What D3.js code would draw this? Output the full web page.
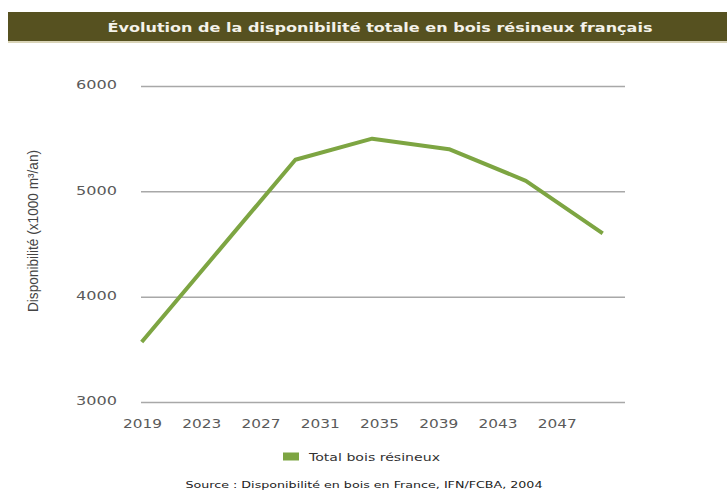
<!DOCTYPE html>
<html lang="fr">
<head>
<meta charset="utf-8">
<script src="https://cdn.jsdelivr.net/npm/d3@7"></script>
<style>
  html, body { margin: 0; padding: 0; background: #ffffff; }
  svg { display: block; }
</style>
</head>
<body>
<svg id="chart" width="727" height="492"></svg>
<script>
// Disponibilité totale en bois résineux (x1000 m³/an), sept points de projection
const periods = ["p1", "p2", "p3", "p4", "p5", "p6", "p7"];
const totalResineux = [3570, 4435, 5300, 5500, 5400, 5100, 4600];

// Graduations affichées
const yearTicks = [2019, 2023, 2027, 2031, 2035, 2039, 2043, 2047];
const valueTicks = [3000, 4000, 5000, 6000];

const title = "Évolution de la disponibilité totale en bois résineux français";
const yTitle = "Disponibilité (x1000 m³/an)";
const legendLabel = "Total bois résineux";
const sourceText = "Source : Disponibilité en bois en France, IFN/FCBA, 2004";

const svg = d3.select("#chart");
const plotLeft = 141, plotRight = 625, plotTop = 86, plotBottom = 402;
const wideFont = "'DejaVu Sans', sans-serif";

// Bandeau de titre
svg.append("rect").attr("x", 8).attr("y", 12).attr("width", 719).attr("height", 29)
  .attr("fill", "#565120");
svg.append("rect").attr("x", 8).attr("y", 41).attr("width", 719).attr("height", 2)
  .attr("fill", "#d9d4b8");
svg.append("text").attr("x", 380).attr("y", 32)
  .attr("text-anchor", "middle")
  .attr("font-family", wideFont)
  .attr("font-weight", "bold").attr("font-size", 13)
  .attr("fill", "#f4f2ea")
  .attr("textLength", 545).attr("lengthAdjust", "spacingAndGlyphs")
  .text(title);

// Échelles
const y = d3.scaleLinear().domain([3000, 6000]).range([plotBottom, plotTop]);
const xSeries = d3.scalePoint().domain(periods).range([141.7, 602.7]);
const xYears = d3.scaleLinear().domain([2019, 2051]).range([142, 616]);

// Quadrillage horizontal
const yAxis = d3.axisLeft(y).tickValues(valueTicks).tickSize(-(plotRight - plotLeft)).tickFormat(d3.format("d"));
const gy = svg.append("g").attr("transform", `translate(${plotLeft},0)`).call(yAxis);
gy.select(".domain").remove();
gy.selectAll(".tick line").attr("stroke", "#a8a8a8").attr("stroke-width", 1.5);
gy.selectAll(".tick text")
  .attr("x", -24).attr("y", -1.5).attr("dy", "0.36em")
  .attr("font-family", wideFont)
  .attr("font-size", 12).attr("fill", "#5a5a5a")
  .attr("textLength", 41).attr("lengthAdjust", "spacingAndGlyphs");

// Axe des années
const xAxis = d3.axisBottom(xYears).tickValues(yearTicks).tickSize(0).tickFormat(d3.format("d"));
const gx = svg.append("g").attr("transform", `translate(0,${plotBottom})`).call(xAxis);
gx.select(".domain").remove();
gx.selectAll(".tick text")
  .attr("y", 26).attr("dy", 0)
  .attr("font-family", wideFont)
  .attr("font-size", 11.5).attr("fill", "#5a5a5a")
  .attr("textLength", 39).attr("lengthAdjust", "spacingAndGlyphs");

// Titre de l'axe vertical
svg.append("text")
  .attr("transform", "translate(38,231) rotate(-90)")
  .attr("text-anchor", "middle")
  .attr("font-family", "'Liberation Sans Narrow', 'Liberation Sans', sans-serif")
  .attr("font-size", 14.5).attr("fill", "#444")
  .attr("textLength", 162).attr("lengthAdjust", "spacingAndGlyphs")
  .text(yTitle);

// Courbe
const line = d3.line()
  .x((d, i) => xSeries(periods[i]))
  .y(d => y(d));
svg.append("path")
  .datum(totalResineux)
  .attr("d", line)
  .attr("fill", "none")
  .attr("stroke", "#7da542")
  .attr("stroke-width", 4)
  .attr("stroke-linejoin", "round");

// Légende
svg.append("rect").attr("x", 283).attr("y", 452.5).attr("width", 16).attr("height", 8)
  .attr("fill", "#7da542");
svg.append("text").attr("x", 309).attr("y", 461)
  .attr("font-family", wideFont)
  .attr("font-size", 11).attr("fill", "#333")
  .attr("textLength", 131).attr("lengthAdjust", "spacingAndGlyphs")
  .text(legendLabel);

// Source
svg.append("text").attr("x", 364).attr("y", 488)
  .attr("text-anchor", "middle")
  .attr("font-family", wideFont)
  .attr("font-size", 9.5).attr("fill", "#222")
  .attr("textLength", 357).attr("lengthAdjust", "spacingAndGlyphs")
  .text(sourceText);
</script>
</body>
</html>
